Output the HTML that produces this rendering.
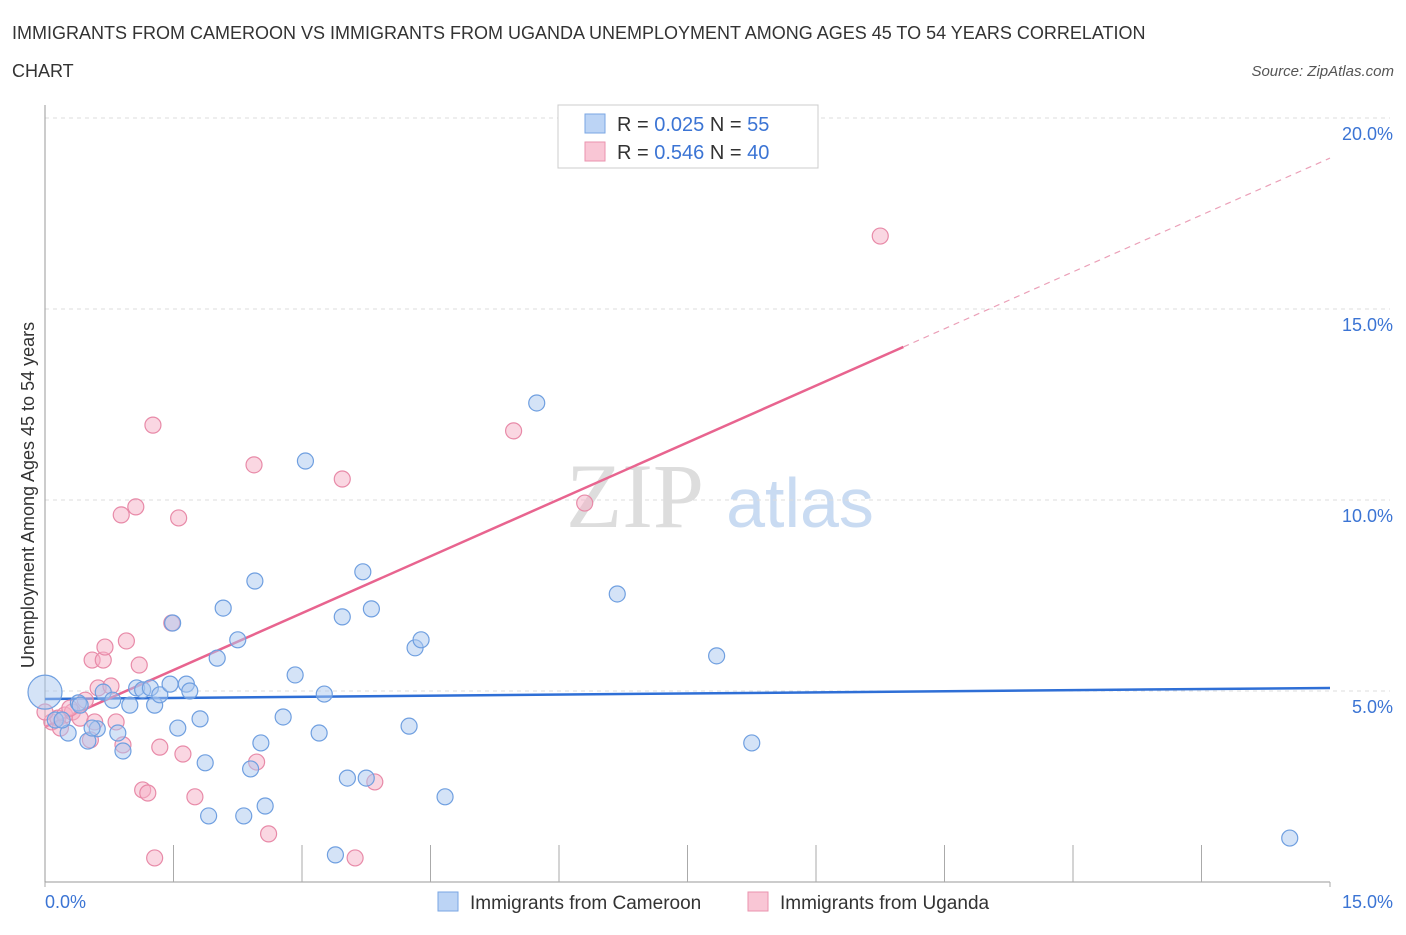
<!DOCTYPE html>
<html><head><meta charset="utf-8"><style>
body{margin:0;background:#fff;font-family:"Liberation Sans",sans-serif;}
</style></head><body>
<svg id="chart" width="1406" height="930" xmlns="http://www.w3.org/2000/svg">
<text x="12" y="39" font-size="18" fill="#333">IMMIGRANTS FROM CAMEROON VS IMMIGRANTS FROM UGANDA UNEMPLOYMENT AMONG AGES 45 TO 54 YEARS CORRELATION</text>
<text x="12" y="77" font-size="18" fill="#333">CHART</text>
<text x="1394" y="76" font-size="15" fill="#555" font-style="italic" text-anchor="end">Source: ZipAtlas.com</text>
<text x="635" y="527" font-size="92" fill="#ddd" font-family="Liberation Serif,serif" text-anchor="middle">ZIP</text>
<text x="800" y="527" font-size="70" fill="#c9dbf2" text-anchor="middle">atlas</text>
<g id="grid"></g><g id="axes"></g><g id="lines"></g><g id="pts"></g>
<text transform="translate(34,495) rotate(-90)" font-size="18" fill="#333" text-anchor="middle">Unemployment Among Ages 45 to 54 years</text>
<g>
<rect x="558" y="105" width="260" height="63" fill="#fff" stroke="#ccc"/>
<rect x="585" y="114" width="20" height="19" fill="#bcd4f5" stroke="#7aa6e3"/>
<text x="617" y="131" font-size="20" fill="#333">R = <tspan fill="#3b74d4">0.025</tspan>   N =  <tspan fill="#3b74d4">55</tspan></text>
<rect x="585" y="142" width="20" height="19" fill="#f9c6d5" stroke="#ea93ae"/>
<text x="617" y="159" font-size="20" fill="#333">R = <tspan fill="#3b74d4">0.546</tspan>   N = <tspan fill="#3b74d4">40</tspan></text>
</g>
<g>
<rect x="438" y="892" width="20" height="19" fill="#bcd4f5" stroke="#7aa6e3"/>
<text x="470" y="909" font-size="19" fill="#333">Immigrants from Cameroon</text>
<rect x="748" y="892" width="20" height="19" fill="#f9c6d5" stroke="#ea93ae"/>
<text x="780" y="909" font-size="19" fill="#333">Immigrants from Uganda</text>
</g>
</svg>
<script>
const blueX=[0,0.27,0.39,0.50,0.61,0.55,0.68,0.79,0.85,0.91,0.99,1.07,1.14,1.23,1.28,1.34,1.46,1.49,1.55,1.65,1.69,1.81,1.87,1.91,2.01,2.08,2.25,2.32,2.40,2.45,2.52,2.57,2.78,2.92,3.04,3.20,3.26,3.39,3.47,3.53,3.71,3.75,3.81,4.25,4.32,4.39,4.67,5.74,6.68,7.84,8.25,14.53,0.12,0.20,0.41];
const blueY=[4.97,3.90,4.69,3.69,4.01,4.03,4.97,4.76,3.90,3.43,4.63,5.08,5.03,5.08,4.63,4.90,5.18,6.78,4.03,5.18,5.00,4.27,3.12,1.73,5.86,7.17,6.34,1.73,2.96,7.88,3.64,1.99,4.32,5.42,11.02,3.90,4.92,0.71,6.94,2.72,8.12,2.72,7.15,4.08,6.13,6.34,2.23,12.54,7.54,5.92,3.64,1.15,4.24,4.24,4.63];
const pinkX=[0.08,0.15,0.23,0.32,0.41,0.47,0.53,0.58,0.55,0.62,0.68,0.70,0.77,0.83,0.89,0.91,0.95,1.06,1.10,1.14,1.20,1.26,1.28,1.34,1.48,1.56,1.61,1.75,2.44,2.47,2.61,3.47,3.62,3.85,5.47,6.30,9.75,0.18,0.29,0];
const pinkY=[4.19,4.29,4.37,4.45,4.29,4.76,3.72,4.19,5.81,5.08,5.81,6.15,5.13,4.19,9.61,3.59,6.31,9.82,5.68,2.41,2.33,11.96,0.63,3.53,6.78,9.53,3.35,2.23,10.92,3.14,1.26,10.55,0.63,2.62,11.81,9.92,16.91,4.03,4.55,4.45];
const yTicks=[5,10,15,20];
const xTickCount=10;
const blueTrend=[4.79,5.08];
const pinkTrend=[4.06,18.95];
const pinkSolidEnd=10.02;
const X0=45,X1=1330,Y0=882,PX=(X1-X0)/15,PY=38.2;
const sx=v=>X0+v*PX, sy=v=>Y0-v*PY;
const NS="http://www.w3.org/2000/svg";
function mk(p,t,a){const e=document.createElementNS(NS,t);for(const k in a)e.setAttribute(k,a[k]);p.appendChild(e);return e;}
const grid=document.getElementById('grid'),axes=document.getElementById('axes'),lines=document.getElementById('lines'),pts=document.getElementById('pts');
yTicks.forEach(v=>{
 const l=mk(grid,'line',{x1:X0,x2:1390,y1:sy(v),y2:sy(v),stroke:'#ddd','stroke-dasharray':'4,4'});
 
 
 const t=mk(grid,'text',{x:1393,y:sy(v)+22,'font-size':18,fill:'#3b74d4','text-anchor':'end'});
 t.textContent=v.toFixed(1)+'%';
 
 
});
let ax=mk(axes,'line',{x1:X0,x2:X0,y1:105,y2:Y0,stroke:'#999'});


ax=mk(axes,'line',{x1:X0,x2:X1,y1:Y0,y2:Y0,stroke:'#999'});


for(let i=0;i<=xTickCount;i++){
 const x=X0+i*(X1-X0)/xTickCount;
 const tk=mk(axes,'line',{x1:x,x2:x,y1:Y0,y2:i==0||i==xTickCount?Y0+5:845,stroke:'#aaa'});
 
 
}
let xl=mk(axes,'text',{x:45,y:908,'font-size':18,fill:'#3b74d4'});xl.textContent='0.0%';


xl=mk(axes,'text',{x:1393,y:908,'font-size':18,fill:'#3b74d4','text-anchor':'end'});xl.textContent='15.0%';


function dot(x,y,r,f,s,n){const c=mk(pts,'circle',{cx:sx(x),cy:sy(y),r:r,fill:f,'fill-opacity':0.5,stroke:s,'stroke-width':1.2});
 
 }
pinkX.forEach((x,i)=>dot(x,pinkY[i],8,'#f5b0c6','#e88aa8','point-uganda'));
blueX.forEach((x,i)=>dot(x,blueY[i],i==0?17:8,'#a9c8f0','#6f9fe0','point-cameroon'));
let ln=mk(lines,'line',{x1:sx(0),y1:sy(blueTrend[0]),x2:sx(15),y2:sy(blueTrend[1]),stroke:'#2f6fd6','stroke-width':2.5});


const pAt=x=>pinkTrend[0]+(pinkTrend[1]-pinkTrend[0])*x/15;
ln=mk(lines,'line',{x1:sx(0),y1:sy(pAt(0)),x2:sx(pinkSolidEnd),y2:sy(pAt(pinkSolidEnd)),stroke:'#e8648f','stroke-width':2.5});


ln=mk(lines,'line',{x1:sx(pinkSolidEnd),y1:sy(pAt(pinkSolidEnd)),x2:sx(15),y2:sy(pAt(15)),stroke:'#eba0b8','stroke-width':1.2,'stroke-dasharray':'6,5'});


</script>
</body></html>
